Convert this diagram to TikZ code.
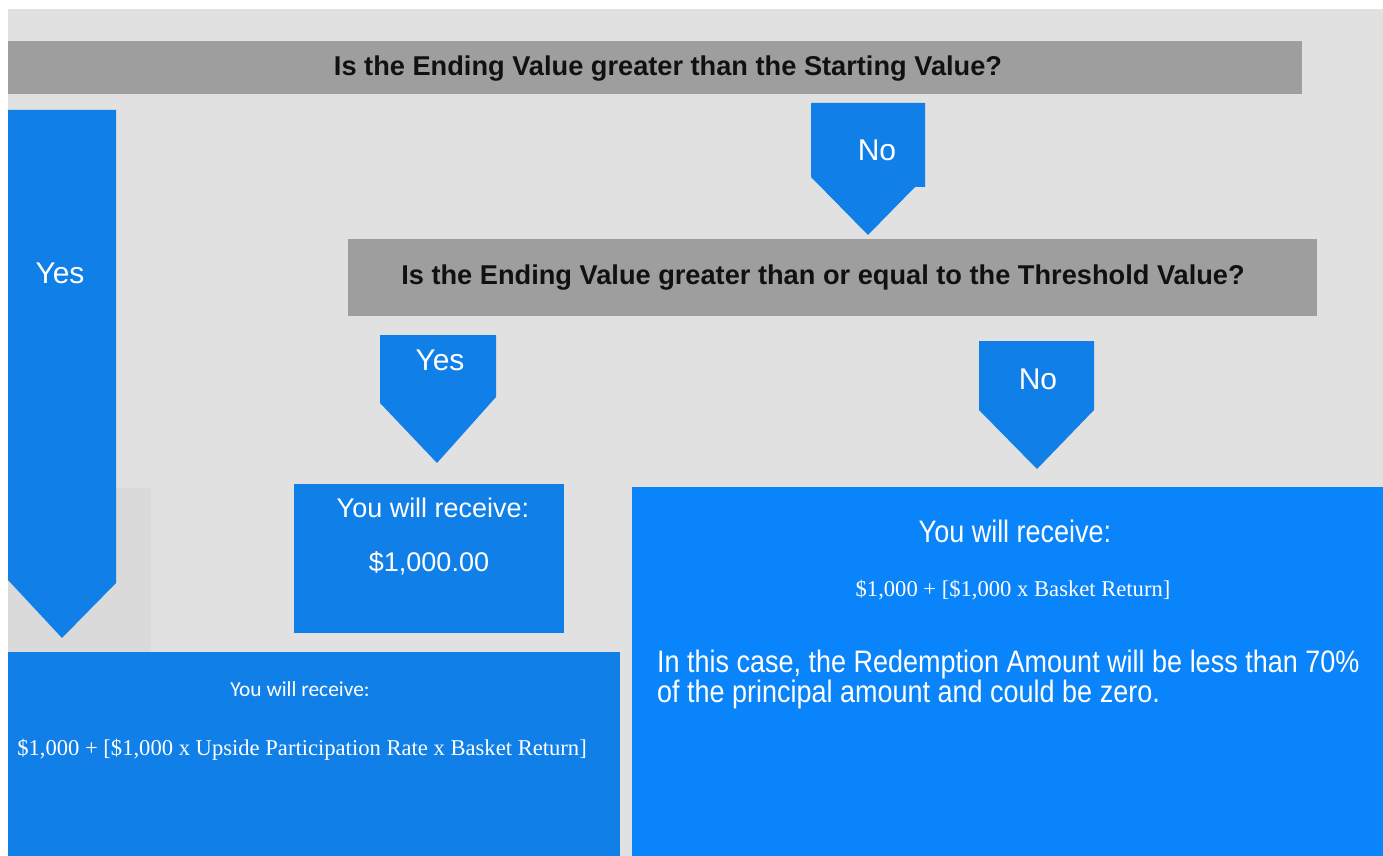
\documentclass[tikz,border=0pt]{standalone}
\usepackage{fontspec}
\setmainfont{Liberation Sans}
\newfontfamily\calibrifont{Carlito}
\newfontfamily\cambriafont{Liberation Serif}
\definecolor{bggray}{RGB}{225,225,225}
\definecolor{patchgray}{RGB}{218,218,218}
\definecolor{bargray}{RGB}{158,158,158}
\definecolor{arrowblue}{RGB}{16,128,232}
\definecolor{boxblue}{RGB}{10,132,250}
\definecolor{inkdark}{RGB}{17,17,17}
\def\tall#1{\scalebox{1}[1.15]{#1}}

\begin{document}
\begin{tikzpicture}[
    x=0.5pt, y=-0.5pt,
    question/.style={
      font=\bfseries\fontsize{13.6}{16}\selectfont, text=inkdark
    },
    answer/.style={
      font=\fontsize{15}{18}\selectfont, text=white
    },
    receive/.style={
      font=\fontsize{13.5}{16}\selectfont, text=white
    },
    formula/.style={
      font=\cambriafont\fontsize{11.3}{14}\selectfont, text=white
    }
  ]
    \useasboundingbox (0,0) rectangle (1383,856);
    \fill[white] (0,0) rectangle (1383,856);
    \fill[bggray] (8,9) rectangle (1383,856);
    \fill[patchgray] (8,488) rectangle (151,652);

    % questions
    \fill[bargray] (8,41) rectangle (1302,94);
    \node[question] (QStart) at (668,69) {Is the Ending Value greater than the Starting Value?};
    \fill[bargray] (348,239) rectangle (1317,316);
    \node[question] (QThresh) at (823,278) {Is the Ending Value greater than or equal to the Threshold Value?};

    % answer arrows
    \fill[arrowblue] (8,110) -- (116,110) -- (116,583) -- (62,638) -- (8,580) -- cycle;
    \node[answer] (YesUp) at (60,273) {Yes};
    \fill[arrowblue] (811,103) -- (925,103) -- (925,187) -- (915,187) -- (868,235) -- (811,177) -- cycle;
    \node[answer] (NoUp) at (877,150) {No};
    \fill[arrowblue] (380,335) -- (496,335) -- (496,397) -- (437,463) -- (380,403) -- cycle;
    \node[answer] (YesThresh) at (440,360) {Yes};
    \fill[arrowblue] (979,341) -- (1094,341) -- (1094,410) -- (1037,469) -- (979,410) -- cycle;
    \node[answer] (NoThresh) at (1038,379) {No};

    % outcomes
    \fill[arrowblue] (294,484) rectangle (564,633);
    \node[receive] (ParRecv) at (433,508) {You will receive:};
    \node[receive] (ParValue) at (429,563) {\$1,000.00};

    \fill[arrowblue] (8,652) rectangle (620,856);
    \node[text=white, font=\calibrifont\fontsize{10.7}{13}\selectfont] (UpRecv) at (300,689) {You will receive:};
    \node[formula] (UpFormula) at (302,750) {\$1,000 + [\$1,000 x Upside Participation Rate x Basket Return]};

    \fill[boxblue] (632,487) rectangle (1383,856);
    \node[receive] (DownRecv) at (1015,531) {\tall{You will receive:}};
    \node[formula] (DownFormula) at (1013,590) {\$1,000 + [\$1,000 x Basket Return]};
    \node[receive, anchor=north west, align=left, font=\fontsize{13.5}{15}\selectfont] (DownNote) at (650,643)
      {\tall{In this case, the Redemption Amount will be less than 70\%}\\
       \tall{of the principal amount and could be zero.}};
  \end{tikzpicture}
\end{document}
